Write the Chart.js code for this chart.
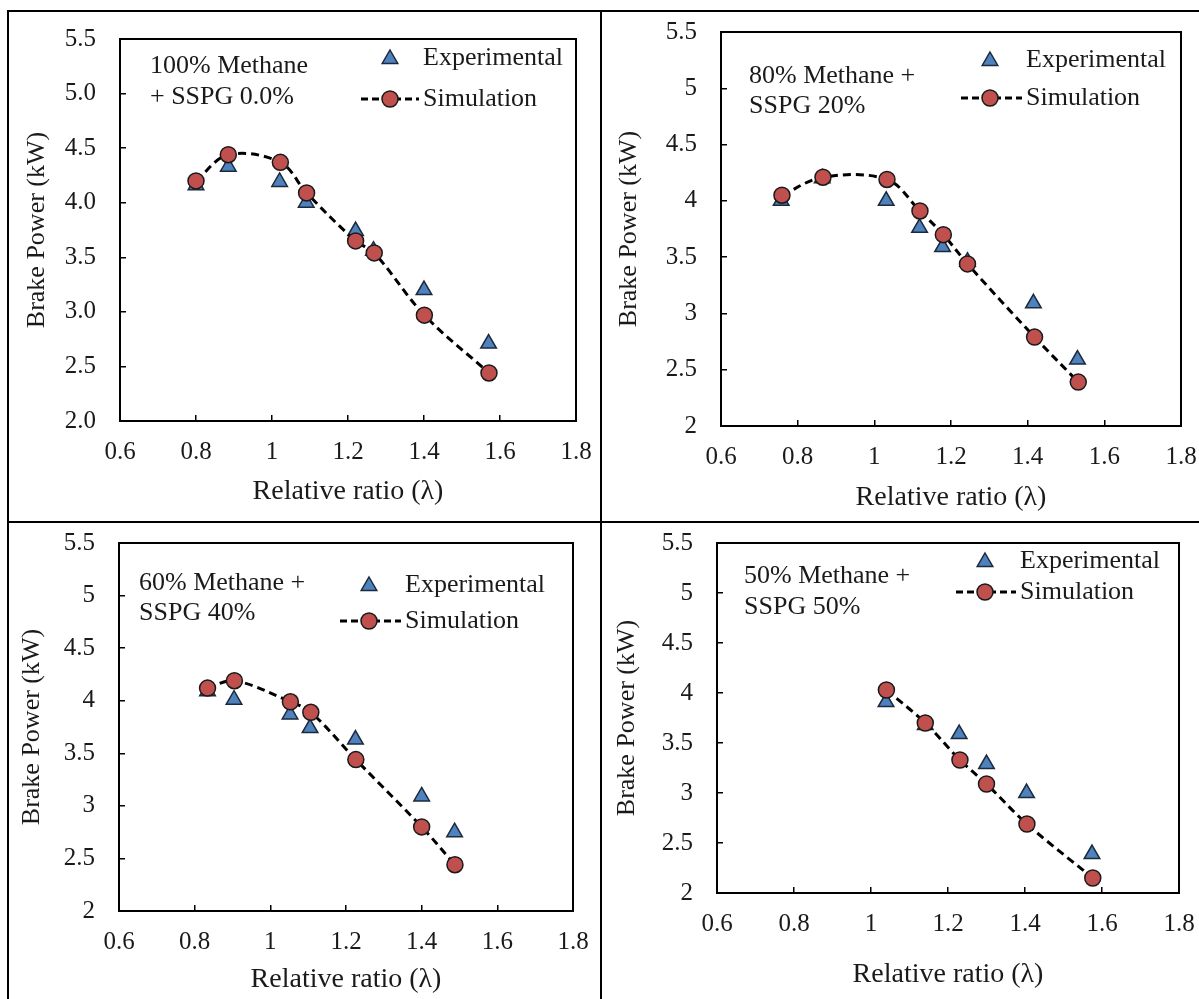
<!DOCTYPE html>
<html>
<head>
<meta charset="utf-8">
<script src="https://cdn.jsdelivr.net/npm/chart.js@4.4.1/dist/chart.umd.min.js"></script>
<style>
  body { margin: 0; background: #fff; }
  #page { position: relative; width: 1199px; height: 999px; overflow: hidden; }
  canvas { position: absolute; }
  .line { position: absolute; background: #000; }
</style>
</head>
<body>
<div id="page">
  <div class="line" style="left:7px;top:10px;width:1192px;height:2px"></div>
  <div class="line" style="left:7px;top:521px;width:1192px;height:2px"></div>
  <div class="line" style="left:7px;top:10px;width:2px;height:989px"></div>
  <div class="line" style="left:600px;top:10px;width:2px;height:989px"></div>
  <canvas id="c1" width="590" height="508" style="left:10px;top:13px"></canvas>
  <canvas id="c2" width="596" height="508" style="left:603px;top:13px"></canvas>
  <canvas id="c3" width="590" height="475" style="left:10px;top:524px"></canvas>
  <canvas id="c4" width="596" height="475" style="left:603px;top:524px"></canvas>
</div>
<script>
// axis ticks
var xTicks = [0.6, 0.8, 1, 1.2, 1.4, 1.6, 1.8];
var xTickLabels = ['0.6', '0.8', '1', '1.2', '1.4', '1.6', '1.8'];
var yTicks = [2, 2.5, 3, 3.5, 4, 4.5, 5, 5.5];
var yTickLabels100 = ['2.0', '2.5', '3.0', '3.5', '4.0', '4.5', '5.0', '5.5'];
var yTickLabels = ['2', '2.5', '3', '3.5', '4', '4.5', '5', '5.5'];

// 100% methane
var lamExp100 = [0.80, 0.885, 1.02, 1.09, 1.22, 1.267, 1.40, 1.57];
var powExp100 = [4.16, 4.33, 4.19, 4.00, 3.74, 3.56, 3.20, 2.71];
var lamSim100 = [0.80, 0.885, 1.022, 1.091, 1.22, 1.269, 1.401, 1.571];
var powSim100 = [4.20, 4.44, 4.37, 4.09, 3.65, 3.54, 2.97, 2.44];

// 80% methane + 20% SSPG
var lamExp80 = [0.757, 0.864, 1.031, 1.118, 1.178, 1.243, 1.415, 1.530];
var powExp80 = [4.00, 4.20, 4.00, 3.76, 3.59, 3.46, 3.09, 2.59];
var lamSim80 = [0.759, 0.866, 1.033, 1.119, 1.18, 1.243, 1.418, 1.532];
var powSim80 = [4.05, 4.21, 4.19, 3.91, 3.70, 3.44, 2.79, 2.39];

// 60% methane + 40% SSPG
var lamExp60 = [0.834, 0.904, 1.052, 1.105, 1.225, 1.40, 1.487];
var powExp60 = [4.09, 4.01, 3.87, 3.74, 3.63, 3.09, 2.75];
var lamSim60 = [0.834, 0.905, 1.053, 1.107, 1.226, 1.40, 1.488];
var powSim60 = [4.12, 4.19, 3.99, 3.89, 3.44, 2.80, 2.44];

// 50% methane + 50% SSPG
var lamExp50 = [1.039, 1.141, 1.229, 1.30, 1.404, 1.574];
var powExp50 = [3.91, 3.68, 3.59, 3.29, 3.00, 2.39];
var lamSim50 = [1.04, 1.141, 1.231, 1.30, 1.405, 1.576];
var powSim50 = [4.03, 3.70, 3.33, 3.09, 2.69, 2.15];

var serif = "'Liberation Serif', 'Times New Roman', serif";
var textColor = '#1a1a1a';
var blue = '#4F81BD';
var red = '#C0504D';

function pares(xs, ys) {
  return xs.map(function (x, i) { return { x: x, y: ys[i] }; });
}

// positions of legend / note inside each canvas
var paineis = [
  { id: 'c1', lamExp: lamExp100, powExp: powExp100, lamSim: lamSim100, powSim: powSim100,
    yLabels: yTickLabels100, note: ['100% Methane', '+ SSPG 0.0%'],
    pad: { left: 0, right: 24, top: 26, bottom: 0 }, yW: 110, xH: 100, yTitlePad: 12, xTitlePad: 13,
    noteX: 140, noteY: [53, 84], legX: 380, legTextX: 413, legY: [45, 86] },
  { id: 'c2', lamExp: lamExp80, powExp: powExp80, lamSim: lamSim80, powSim: powSim80,
    yLabels: yTickLabels, note: ['80% Methane +', 'SSPG 20%'],
    pad: { left: 0, right: 18, top: 19, bottom: 0 }, yW: 118, xH: 95, yTitlePad: 11, xTitlePad: 7,
    noteX: 146, noteY: [63, 93], legX: 387, legTextX: 423, legY: [47, 85] },
  { id: 'c3', lamExp: lamExp60, powExp: powExp60, lamSim: lamSim60, powSim: powSim60,
    yLabels: yTickLabels, note: ['60% Methane +', 'SSPG 40%'],
    pad: { left: 0, right: 27, top: 19, bottom: 0 }, yW: 109, xH: 88, yTitlePad: 7, xTitlePad: 3,
    noteX: 129, noteY: [59, 89], legX: 359, legTextX: 395, legY: [61, 97] },
  { id: 'c4', lamExp: lamExp50, powExp: powExp50, lamSim: lamSim50, powSim: powSim50,
    yLabels: yTickLabels, note: ['50% Methane +', 'SSPG 50%'],
    pad: { left: 0, right: 20, top: 19, bottom: 0 }, yW: 114, xH: 106, yTitlePad: 9, xTitlePad: 8,
    noteX: 141, noteY: [52, 83], legX: 382, legTextX: 417, legY: [37, 68] }
];

function desenhaTriangulo(ctx, x, y, r) {
  ctx.beginPath();
  ctx.moveTo(x, y - r);
  ctx.lineTo(x + r * 0.866, y + r * 0.5);
  ctx.lineTo(x - r * 0.866, y + r * 0.5);
  ctx.closePath();
  ctx.fillStyle = blue;
  ctx.fill();
  ctx.lineWidth = 1.5;
  ctx.strokeStyle = '#1b2a3d';
  ctx.stroke();
}

var molduraPlugin = {
  id: 'moldura',
  beforeDatasetsDraw: function (chart) {
    var a = chart.chartArea;
    var ctx = chart.ctx;
    ctx.save();
    ctx.strokeStyle = '#000';
    ctx.lineWidth = 2;
    ctx.strokeRect(Math.round(a.left), Math.round(a.top), Math.round(a.right - a.left), Math.round(a.bottom - a.top));
    ctx.restore();
  },
  afterDraw: function (chart) {
    var p = chart.options.plugins.moldura;
    var ctx = chart.ctx;
    ctx.save();
    ctx.fillStyle = textColor;
    ctx.font = '26px ' + serif;
    ctx.textBaseline = 'middle';
    ctx.textAlign = 'left';
    ctx.fillText(p.note[0], p.noteX, p.noteY[0]);
    ctx.fillText(p.note[1], p.noteX, p.noteY[1]);

    // legend
    desenhaTriangulo(ctx, p.legX, p.legY[0] + 1, 9);
    ctx.fillStyle = textColor;
    ctx.fillText('Experimental', p.legTextX, p.legY[0]);

    ctx.beginPath();
    ctx.setLineDash([7, 4]);
    ctx.lineWidth = 3;
    ctx.strokeStyle = '#000';
    ctx.moveTo(p.legX - 29, p.legY[1]);
    ctx.lineTo(p.legTextX - 4, p.legY[1]);
    ctx.stroke();
    ctx.setLineDash([]);
    ctx.beginPath();
    ctx.arc(p.legX, p.legY[1], 8, 0, Math.PI * 2);
    ctx.fillStyle = red;
    ctx.fill();
    ctx.lineWidth = 1.5;
    ctx.strokeStyle = '#1a1a1a';
    ctx.stroke();
    ctx.fillStyle = textColor;
    ctx.fillText('Simulation', p.legTextX, p.legY[1]);
    ctx.restore();
  }
};

paineis.forEach(function (p) {
  var ctx = document.getElementById(p.id);
  new Chart(ctx, {
    type: 'scatter',
    data: {
      datasets: [{
        label: 'Simulation',
        data: pares(p.lamSim, p.powSim),
        showLine: true,
        tension: 0.35,
        borderColor: '#000',
        borderWidth: 3,
        borderDash: [8, 5],
        pointStyle: 'circle',
        pointRadius: 8,
        pointBackgroundColor: red,
        pointBorderColor: '#1a1a1a',
        pointBorderWidth: 1.5
      }, {
        label: 'Experimental',
        data: pares(p.lamExp, p.powExp),
        showLine: false,
        pointStyle: 'triangle',
        pointRadius: 9,
        pointBackgroundColor: blue,
        pointBorderColor: '#1b2a3d',
        pointBorderWidth: 1.5
      }]
    },
    options: {
      responsive: false,
      animation: false,
      layout: { padding: p.pad },
      plugins: {
        legend: { display: false },
        tooltip: { enabled: false },
        moldura: p
      },
      scales: {
        x: {
          type: 'linear',
          min: 0.6,
          max: 1.8,
          afterBuildTicks: function (axis) {
            axis.ticks = xTicks.map(function (v) { return { value: v }; });
          },
          afterFit: function (s) {
            s.height = p.xH;
            s.paddingLeft = 0;
            s.paddingRight = 0;
          },
          ticks: {
            padding: 22,
            color: textColor,
            font: { family: serif, size: 25 },
            maxRotation: 0,
            callback: function (v, i) { return xTickLabels[i]; }
          },
          grid: { drawOnChartArea: false, drawTicks: true, tickLength: -6, color: '#000', lineWidth: 1.5 },
          border: { display: false },
          title: {
            display: true,
            text: 'Relative ratio (λ)',
            color: textColor,
            font: { family: serif, size: 28 },
            padding: { top: 0, bottom: p.xTitlePad }
          }
        },
        y: {
          type: 'linear',
          min: 2,
          max: 5.5,
          afterBuildTicks: function (axis) {
            axis.ticks = yTicks.map(function (v) { return { value: v }; });
          },
          afterFit: function (s) {
            s.width = p.yW;
            s.paddingTop = 0;
            s.paddingBottom = 0;
          },
          ticks: {
            padding: 30,
            color: textColor,
            font: { family: serif, size: 25 },
            callback: function (v, i) { return p.yLabels[i]; }
          },
          grid: { drawOnChartArea: false, drawTicks: true, tickLength: -6, color: '#000', lineWidth: 1.5 },
          border: { display: false },
          title: {
            display: true,
            text: 'Brake Power (kW)',
            color: textColor,
            font: { family: serif, size: 26 },
            padding: { top: p.yTitlePad, bottom: 0 }
          }
        }
      }
    },
    plugins: [molduraPlugin]
  });
});
</script>
</body>
</html>
